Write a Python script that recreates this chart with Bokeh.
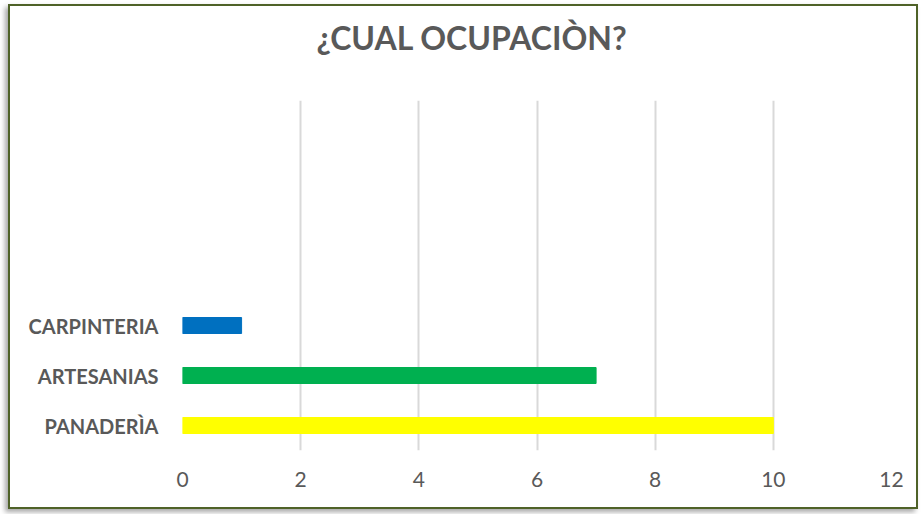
from bokeh.plotting import figure
from bokeh.models import FactorRange, Range1d, ColumnDataSource, Title
from bokeh.embed import file_html
from bokeh.resources import INLINE

title_text = "¿CUAL OCUPACIÒN?"
categories = ["PANADERÌA", "ARTESANIAS", "CARPINTERIA"]
values = [10, 7, 1]
colors = ["#FFFF00", "#00B050", "#0070C0"]
empty_slots = [" ", "  ", "   ", "    "]
x_ticks = [0, 2, 4, 6, 8, 10, 12]

src = ColumnDataSource(dict(cat=categories, val=values, color=colors))

p = figure(width=910, height=505, output_backend="svg", toolbar_location=None,
           y_range=FactorRange(factors=categories + empty_slots, range_padding=0),
           x_range=Range1d(0, 12),
           min_border_left=172, min_border_right=29, min_border_top=94, min_border_bottom=61,
           styles={"margin-left": "8px", "margin-top": "4px",
                   "border": "2px solid #4F6228",
                   "box-shadow": "-3px 3px 5px rgba(0,0,0,0.35)"})

p.hbar(y="cat", right="val", left=0, height=0.32, color="color", source=src)

p.title.visible = False
# spacer between the chart title and the plot area
p.add_layout(Title(text=" ", text_font_size="1px", standoff=34), "above")
p.add_layout(Title(text=title_text, align="left", offset=134, standoff=10,
                   vertical_align="top", text_font="Lato", text_font_size="32px",
                   text_color="#595959", text_font_style="bold"), "above")

p.outline_line_color = None
p.border_fill_color = "white"

p.xaxis.ticker = x_ticks
p.xaxis.axis_line_color = None
p.xaxis.major_tick_line_color = None
p.xaxis.minor_tick_line_color = None
p.xaxis.major_label_text_font = "Lato"
p.xaxis.major_label_text_font_size = "21px"
p.xaxis.major_label_text_color = "#595959"
p.xaxis.major_label_standoff = 15

p.yaxis.axis_line_color = None
p.yaxis.major_tick_line_color = None
p.yaxis.major_label_text_font = "Lato"
p.yaxis.major_label_text_font_size = "20px"
p.yaxis.major_label_text_font_style = "bold"
p.yaxis.major_label_text_color = "#595959"
p.yaxis.major_label_standoff = 18

p.ygrid.grid_line_color = None
p.xgrid.grid_line_color = "#D9D9D9"
p.xgrid.grid_line_width = 2

open("out.html", "w").write(file_html(p, INLINE))
